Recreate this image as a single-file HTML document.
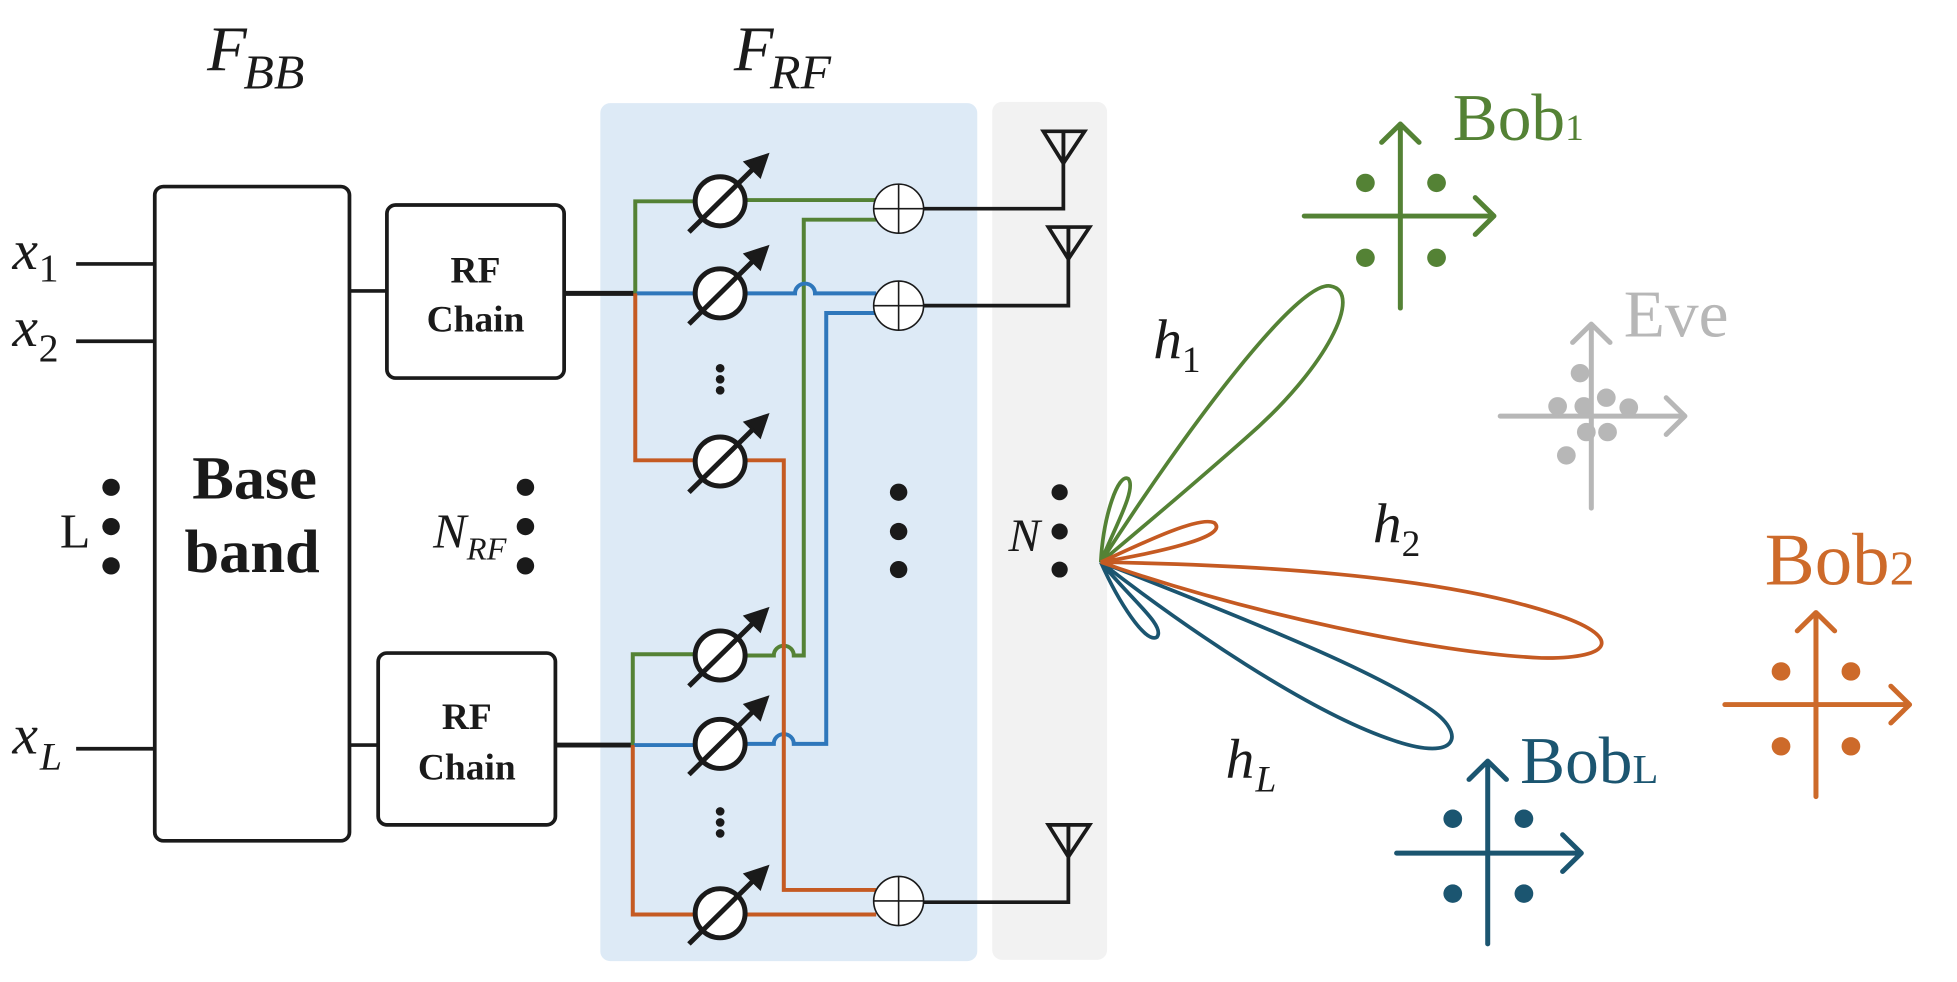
<!DOCTYPE html>
<html><head><meta charset="utf-8"><style>
html,body{margin:0;padding:0;background:#fff;}
svg{display:block;}
text{font-family:"Liberation Serif",serif;}
.it{font-style:italic;}
</style></head><body>
<svg width="1957" height="982" viewBox="0 0 1568 800" preserveAspectRatio="none" xmlns="http://www.w3.org/2000/svg">
<!-- panels -->
<rect x="481" y="84" width="302" height="699" rx="8" fill="#ddeaf6"/>
<rect x="795" y="83" width="92" height="699" rx="8" fill="#f2f2f2"/>

<!-- titles -->
<text x="166" y="57" font-size="52" class="it" fill="#1a1a1a">F</text>
<text x="195" y="72" font-size="40" class="it" fill="#1a1a1a">BB</text>
<text x="588" y="57" font-size="52" class="it" fill="#1a1a1a">F</text>
<text x="617" y="72" font-size="40" class="it" fill="#1a1a1a">RF</text>

<!-- inputs -->
<g stroke="#1a1a1a" stroke-width="3" fill="none">
<line x1="61" y1="215" x2="124" y2="215"/>
<line x1="61" y1="278" x2="124" y2="278"/>
<line x1="61" y1="610" x2="124" y2="610"/>
<rect x="124" y="152" width="156" height="533" rx="7"/>
<line x1="280" y1="237" x2="310" y2="237"/>
<line x1="280" y1="607" x2="303" y2="607"/>
<rect x="310" y="167" width="142" height="141" rx="7"/>
<rect x="303" y="532" width="142" height="140" rx="7"/>
</g>
<text x="10" y="219" font-size="46" class="it" fill="#1a1a1a">x</text><text x="31" y="229" font-size="32" fill="#1a1a1a">1</text>
<text x="10" y="282" font-size="46" class="it" fill="#1a1a1a">x</text><text x="31" y="294" font-size="32" fill="#1a1a1a">2</text>
<text x="10" y="614" font-size="46" class="it" fill="#1a1a1a">x</text><text x="32" y="627" font-size="32" class="it" fill="#1a1a1a">L</text>
<text x="48" y="446" font-size="40" fill="#1a1a1a">L</text>
<g fill="#1a1a1a">
<circle cx="89" cy="397" r="7"/><circle cx="89" cy="429" r="7"/><circle cx="89" cy="461" r="7"/>
<circle cx="421" cy="397" r="7"/><circle cx="421" cy="429" r="7"/><circle cx="421" cy="461" r="7"/>
<circle cx="720" cy="401" r="7"/><circle cx="720" cy="433" r="7"/><circle cx="720" cy="464" r="7"/>
<circle cx="849" cy="401" r="6.5"/><circle cx="849" cy="433" r="6.5"/><circle cx="849" cy="464" r="6.5"/>
<circle cx="577" cy="300" r="3.5"/><circle cx="577" cy="309" r="3.5"/><circle cx="577" cy="318" r="3.5"/>
<circle cx="577" cy="661" r="3.5"/><circle cx="577" cy="670" r="3.5"/><circle cx="577" cy="679" r="3.5"/>
</g>
<text x="347" y="446" font-size="40" class="it" fill="#1a1a1a">N</text><text x="374" y="456" font-size="26" class="it" fill="#1a1a1a">RF</text>
<text x="808" y="449" font-size="38" class="it" fill="#1a1a1a">N</text>
<text x="204" y="406" font-size="50" font-weight="bold" text-anchor="middle" fill="#1a1a1a">Base</text>
<text x="202" y="466" font-size="50" font-weight="bold" text-anchor="middle" fill="#1a1a1a">band</text>
<text x="381" y="230" font-size="30" font-weight="bold" text-anchor="middle" fill="#1a1a1a">RF</text>
<text x="381" y="270" font-size="30" font-weight="bold" text-anchor="middle" fill="#1a1a1a">Chain</text>
<text x="374" y="594" font-size="30" font-weight="bold" text-anchor="middle" fill="#1a1a1a">RF</text>
<text x="374" y="635" font-size="30" font-weight="bold" text-anchor="middle" fill="#1a1a1a">Chain</text>

<!-- black thick feeds -->
<g stroke="#1a1a1a" stroke-width="4" fill="none">
<line x1="452" y1="239" x2="510" y2="239"/>
<line x1="445" y1="607" x2="508" y2="607"/>
</g>

<!-- colored lines -->
<g fill="none" stroke-width="3.2" stroke-linejoin="miter">
<path d="M509 239 V164 H556 M598 163 H702" stroke="#548235"/>
<path d="M598 534 H620 A8 8 0 0 1 636 534 H644 V179 H702" stroke="#548235"/>
<path d="M507 607 V533 H556" stroke="#548235"/>
<path d="M510 239 H556 M598 239 H637 A8 8 0 0 1 653 239 H702" stroke="#2e77bb"/>
<path d="M508 607 H556 M598 606 H620 A8 8 0 0 1 636 606 H662 V255 H702" stroke="#2e77bb"/>
<path d="M509 239 V375 H556 M598 375 H628 V725 H702" stroke="#c55a22"/>
<path d="M507 607 V745 H556 M598 745 H702" stroke="#c55a22"/>
</g>

<!-- phase shifters -->
<g stroke="#1a1a1a" stroke-width="4" fill="#fff">
<g transform="translate(577,164)"><circle r="20"/><line x1="-25" y1="25" x2="30" y2="-30"/><path d="M38 -38 L20 -32 L32 -20 Z" fill="#1a1a1a" stroke-width="2"/></g>
<g transform="translate(577,239)"><circle r="20"/><line x1="-25" y1="25" x2="30" y2="-30"/><path d="M38 -38 L20 -32 L32 -20 Z" fill="#1a1a1a" stroke-width="2"/></g>
<g transform="translate(577,376)"><circle r="20"/><line x1="-25" y1="25" x2="30" y2="-30"/><path d="M38 -38 L20 -32 L32 -20 Z" fill="#1a1a1a" stroke-width="2"/></g>
<g transform="translate(577,534)"><circle r="20"/><line x1="-25" y1="25" x2="30" y2="-30"/><path d="M38 -38 L20 -32 L32 -20 Z" fill="#1a1a1a" stroke-width="2"/></g>
<g transform="translate(577,606)"><circle r="20"/><line x1="-25" y1="25" x2="30" y2="-30"/><path d="M38 -38 L20 -32 L32 -20 Z" fill="#1a1a1a" stroke-width="2"/></g>
<g transform="translate(577,744)"><circle r="20"/><line x1="-25" y1="25" x2="30" y2="-30"/><path d="M38 -38 L20 -32 L32 -20 Z" fill="#1a1a1a" stroke-width="2"/></g>
</g>

<!-- combiners -->
<g stroke="#1a1a1a" stroke-width="1.3" fill="#fff">
<g transform="translate(720,170)"><circle r="20"/><line x1="-20" y1="0" x2="20" y2="0"/><line x1="0" y1="-20" x2="0" y2="20"/></g>
<g transform="translate(720,249)"><circle r="20"/><line x1="-20" y1="0" x2="20" y2="0"/><line x1="0" y1="-20" x2="0" y2="20"/></g>
<g transform="translate(720,734)"><circle r="20"/><line x1="-20" y1="0" x2="20" y2="0"/><line x1="0" y1="-20" x2="0" y2="20"/></g>
</g>

<!-- antennas -->
<g stroke="#1a1a1a" stroke-width="3" fill="none">
<path d="M740 170 H852 V107"/>
<path d="M836 107 H869 L852 133 Z M852 107 V133"/>
<path d="M740 249 H856 V185"/>
<path d="M840 185 H873 L856 211 Z M856 185 V211"/>
<path d="M740 735 H856 V672"/>
<path d="M840 672 H873 L856 698 Z M856 672 V698"/>
</g>

<!-- beams -->
<g fill="none" stroke-width="3">
<path d="M882 458 C950 350 1040 228 1066 233 C1093 238 1063 300 998 357 C948 402 903 440 882 458 Z" stroke="#548235"/>
<path d="M882 458 C884 420 896 385 904 390 C911 398 893 430 882 458" stroke="#548235"/>
<path d="M882 458 C948 510 1048 580 1116 603 C1170 622 1175 597 1145 577 C1105 550 1038 520 882 458" stroke="#1b5570"/>
<path d="M882 458 C896 490 918 525 927 519 C934 510 908 490 882 458" stroke="#1b5570"/>
<path d="M882 458 C1000 460 1150 468 1245 500 C1300 518 1295 537 1235 536 C1150 532 1000 500 882 458 Z" stroke="#c55a22"/>
<path d="M882 458 C920 440 962 420 973 426 C984 436 940 448 882 458" stroke="#c55a22"/>
</g>
<text x="924" y="292" font-size="46" class="it" fill="#1a1a1a">h</text><text x="947" y="303" font-size="30" fill="#1a1a1a">1</text>
<text x="1100" y="442" font-size="46" class="it" fill="#1a1a1a">h</text><text x="1123" y="453" font-size="30" fill="#1a1a1a">2</text>
<text x="982" y="634" font-size="46" class="it" fill="#1a1a1a">h</text><text x="1006" y="645" font-size="30" class="it" fill="#1a1a1a">L</text>

<!-- constellations -->
<g stroke-width="4" fill="none" stroke-linecap="round" stroke-linejoin="round">
<g stroke="#548235" transform="translate(-14,0)"><path d="M1136 251 V101 M1121 116 L1136 101 L1151 116 M1059 176 H1211 M1196 161 L1211 176 L1196 191"/></g>
<g stroke="#b7b7b7" transform="translate(-23,0)"><path d="M1298 414 V264 M1283 279 L1298 264 L1313 279 M1225 339 H1373 M1358 324 L1373 339 L1358 354"/></g>
<g stroke="#cd6a2a" transform="translate(-30,0)"><path d="M1485 649 V499 M1470 514 L1485 499 L1500 514 M1412 574 H1560 M1545 559 L1560 574 L1545 589"/></g>
<g stroke="#1b5570" transform="translate(-19,0)"><path d="M1211 769 V620 M1196 635 L1211 620 L1226 635 M1138 695 H1286 M1271 680 L1286 695 L1271 710"/></g>
</g>
<g fill="#548235" transform="translate(-14,0)"><circle cx="1108" cy="149" r="7.5"/><circle cx="1165" cy="149" r="7.5"/><circle cx="1108" cy="210" r="7.5"/><circle cx="1165" cy="210" r="7.5"/></g>
<g fill="#cd6a2a" transform="translate(-30,0)"><circle cx="1457" cy="547" r="7.5"/><circle cx="1513" cy="547" r="7.5"/><circle cx="1457" cy="608" r="7.5"/><circle cx="1513" cy="608" r="7.5"/></g>
<g fill="#1b5570" transform="translate(-19,0)"><circle cx="1183" cy="667" r="7.5"/><circle cx="1240" cy="667" r="7.5"/><circle cx="1183" cy="728" r="7.5"/><circle cx="1240" cy="728" r="7.5"/></g>
<g fill="#b7b7b7" transform="translate(-23,0)"><circle cx="1289" cy="304" r="7.5"/><circle cx="1271" cy="331" r="7.5"/><circle cx="1292" cy="331" r="7.5"/><circle cx="1310" cy="324" r="7.5"/><circle cx="1328" cy="332" r="7.5"/><circle cx="1294" cy="352" r="7.5"/><circle cx="1311" cy="352" r="7.5"/><circle cx="1278" cy="371" r="7.5"/></g>

<text x="1164" y="114" font-size="54" fill="#548235">Bob<tspan font-size="30">1</tspan></text>
<text x="1301" y="274" font-size="54" fill="#b7b7b7">Eve</text>
<text x="1414" y="476" font-size="60" fill="#cd6a2a">Bob<tspan font-size="40">2</tspan></text>
<text x="1218" y="638" font-size="54" fill="#1b5570">Bob<tspan font-size="34">L</tspan></text>
</svg>
</body></html>
